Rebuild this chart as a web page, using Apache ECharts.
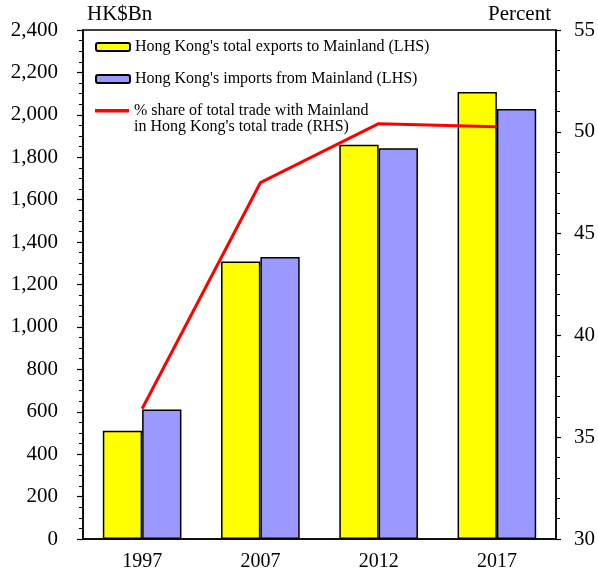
<!DOCTYPE html>
<html>
<head>
<meta charset="utf-8">
<script src="https://cdn.jsdelivr.net/npm/echarts@6/dist/echarts.min.js"></script>
<style>
  html, body { margin: 0; padding: 0; background: #fff; }
  #chart { width: 598px; height: 572px; }
</style>
</head>
<body>
<div id="chart"></div>
<script>
// Hong Kong trade with the Mainland
const years = ['1997', '2007', '2012', '2017'];
const exportsToMainland = [510, 1308, 1859, 2108];   // HK$Bn (LHS)
const importsFromMainland = [611, 1330, 1842, 2028]; // HK$Bn (LHS)
const shareOfTrade = [36.4, 47.5, 50.4, 50.25];      // percent (RHS)

const seriesNames = [
  "Hong Kong's total exports to Mainland (LHS)",
  "Hong Kong's imports from Mainland (LHS)",
  "% share of total trade with Mainland\nin Hong Kong's total trade (RHS)"
];

const FONT = '"Liberation Serif", "Times New Roman", serif';
const chart = echarts.init(document.getElementById('chart'), null, { renderer: 'canvas' });

const legendText = { fontFamily: FONT, fontSize: 16, color: '#000', lineHeight: 18 };

chart.setOption({
  animation: false,
  backgroundColor: '#fff',
  grid: {
    left: 83, right: 40, top: 30, bottom: 32,
    show: true, borderColor: '#000', borderWidth: 1.5, backgroundColor: 'transparent'
  },
  legend: [
    {
      data: [seriesNames[0]], left: 90, top: 33, itemWidth: 34, itemHeight: 8,
      itemGap: 7, textStyle: legendText, selectedMode: false
    },
    {
      data: [seriesNames[1]], left: 90, top: 65, itemWidth: 34, itemHeight: 8,
      itemGap: 7, textStyle: legendText, selectedMode: false
    },
    {
      // leading blank line keeps the red stroke level with the first text line
      data: [{ name: seriesNames[2], icon: 'rect' }], left: 90, top: 81,
      itemWidth: 34, itemHeight: 3.5, itemGap: 7, selectedMode: false,
      itemStyle: { color: '#ff0000', borderWidth: 0 },
      formatter: name => '\n' + name,
      textStyle: Object.assign({}, legendText, { lineHeight: 16.5 })
    }
  ],
  xAxis: {
    type: 'category',
    data: years,
    axisLine: { lineStyle: { color: '#000', width: 1.5 } },
    axisTick: { length: 5, lineStyle: { color: '#000', width: 1.2 } },
    axisLabel: { fontFamily: FONT, fontSize: 20, color: '#000', margin: 13 }
  },
  yAxis: [
    {
      type: 'value', min: 0, max: 2400, interval: 200,
      name: 'HK$Bn', nameLocation: 'end', nameGap: 5,
      nameTextStyle: { fontFamily: FONT, fontSize: 21, color: '#000', align: 'left', padding: [0, 0, 0, 4] },
      axisLine: { show: true, lineStyle: { color: '#000', width: 1.5 } },
      axisTick: { show: true, length: 6, lineStyle: { color: '#000', width: 1.2 } },
      minorTick: { show: true, splitNumber: 4, length: 4, lineStyle: { color: '#000', width: 1 } },
      splitLine: { show: false },
      axisLabel: {
        fontFamily: FONT, fontSize: 21, color: '#000', margin: 25,
        formatter: v => v.toLocaleString('en-US')
      }
    },
    {
      type: 'value', min: 30, max: 55, interval: 5, position: 'right',
      name: 'Percent', nameLocation: 'end', nameGap: 5,
      nameTextStyle: { fontFamily: FONT, fontSize: 21, color: '#000', align: 'right', padding: [0, 5, 0, 0] },
      axisLine: { show: true, lineStyle: { color: '#000', width: 1.5 } },
      axisTick: { show: true, length: 5, lineStyle: { color: '#000', width: 1.2 } },
      minorTick: { show: true, splitNumber: 5, length: 4, lineStyle: { color: '#000', width: 1 } },
      splitLine: { show: false },
      axisLabel: { fontFamily: FONT, fontSize: 21, color: '#000', margin: 18 }
    }
  ],
  series: [
    {
      name: seriesNames[0], type: 'bar', data: exportsToMainland,
      barGap: '0%', barCategoryGap: '33.5%',
      itemStyle: { color: '#ffff00', borderColor: '#000', borderWidth: 1.5 }
    },
    {
      name: seriesNames[1], type: 'bar', data: importsFromMainland,
      barGap: '0%', barCategoryGap: '33.5%',
      itemStyle: { color: '#9999ff', borderColor: '#000', borderWidth: 1.5 }
    },
    {
      name: seriesNames[2], type: 'line', yAxisIndex: 1, data: shareOfTrade,
      symbol: 'none', z: 5,
      lineStyle: { color: '#ff0000', width: 3 },
      itemStyle: { color: '#ff0000' }
    }
  ]
});
</script>
</body>
</html>
